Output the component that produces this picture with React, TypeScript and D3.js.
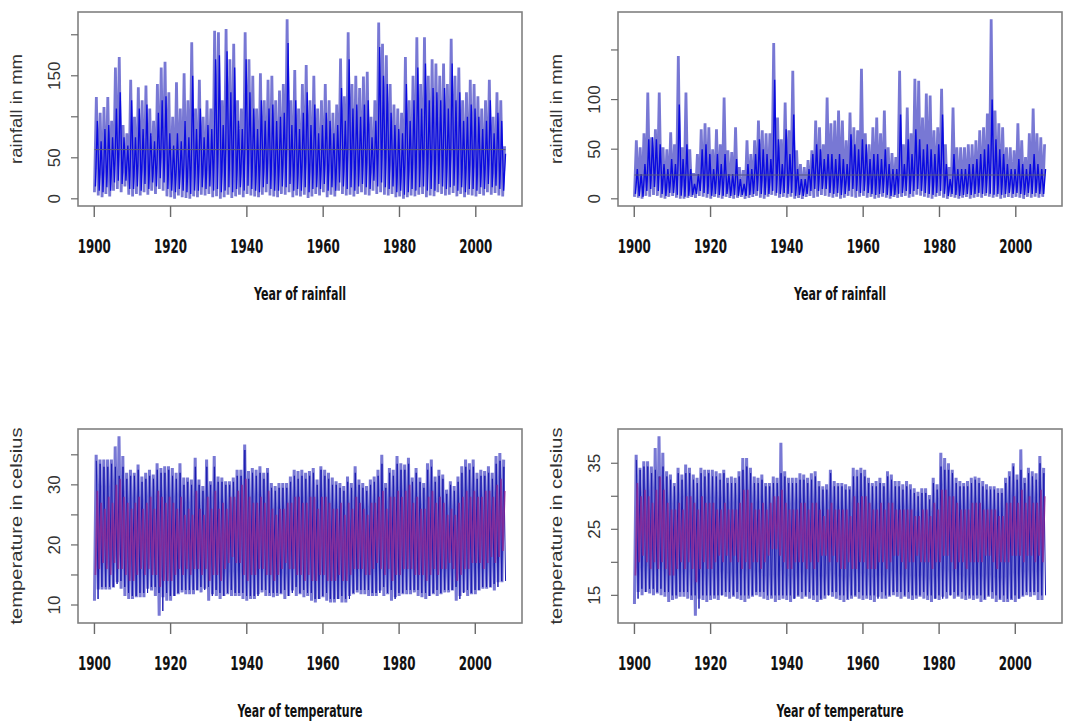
import React from 'react';
import * as d3 from 'd3';

// ---------- DATA ----------
const YEARS: number[] = d3.range(1900, 2008);
const X_TICKS = [1900, 1920, 1940, 1960, 1980, 2000];

// Panel 1: rainfall (station A), annual peak / trough of monthly rainfall, mm
const R1_SLATE_PEAK = [
  124, 105, 112, 124, 95, 160, 173, 90, 80, 145,
  100, 136, 120, 138, 110, 95, 140, 160, 167, 130,
  100, 142, 110, 153, 120, 191, 110, 145, 100, 120,
  110, 205, 203, 120, 207, 170, 189, 120, 110, 203,
  170, 150, 110, 153, 120, 145, 150, 120, 132, 140,
  219, 120, 157, 110, 140, 163, 120, 150, 110, 120,
  140, 120, 105, 115, 171, 125, 203, 140, 150, 135,
  149, 155, 100, 120, 215, 189, 175, 140, 115, 110,
  105, 173, 120, 150, 197, 140, 197, 150, 170, 165,
  150, 165, 140, 195, 150, 160, 120, 130, 145, 140,
  125, 110, 120, 145, 100, 130, 120, 64];
const R1_SLATE_TROUGH = [
  8, 4, 2, 6, 3, 10, 12, 8, 15, 5,
  3, 6, 4, 8, 5, 10, 6, 12, 10, 3,
  2, 0, 4, 2, 1, 0, 3, 2, 5, 4,
  6, 2, 3, 0, 2, 5, 1, 3, 5, 2,
  6, 4, 3, 2, 5, 8, 4, 3, 2, 6,
  5, 8, 2, 4, 3, 5, 1, 3, 6, 4,
  8, 2, 5, 3, 10, 6, 4, 5, 3, 6,
  8, 5, 4, 10, 6, 8, 5, 4, 6, 2,
  3, 0, 2, 4, 3, 5, 6, 2, 4, 3,
  8, 6, 4, 5, 7, 3, 6, 2, 5, 4,
  3, 6, 4, 8, 5, 7, 4, 3];
const R1_BLUE_PEAK = [
  95, 70, 85, 90, 75, 110, 130, 75, 65, 120,
  75, 110, 85, 115, 80, 70, 105, 120, 125, 80,
  65, 80, 70, 95, 75, 150, 85, 110, 75, 90,
  85, 170, 175, 90, 180, 130, 160, 95, 85, 170,
  130, 110, 85, 120, 95, 110, 115, 95, 100, 105,
  190, 90, 120, 85, 105, 130, 90, 115, 80, 90,
  105, 95, 80, 90, 135, 95, 170, 110, 115, 100,
  115, 120, 75, 95, 185, 150, 140, 105, 90, 85,
  80, 140, 95, 120, 160, 110, 165, 120, 135, 130,
  120, 135, 110, 165, 120, 130, 95, 100, 115, 110,
  100, 85, 95, 120, 80, 105, 95, 55];
const R1_BLUE_TROUGH = [
  15, 10, 8, 14, 10, 20, 22, 18, 22, 12,
  12, 15, 10, 18, 12, 20, 15, 25, 20, 12,
  10, 8, 12, 10, 8, 6, 10, 10, 14, 12,
  15, 10, 12, 8, 10, 14, 8, 12, 14, 10,
  16, 12, 10, 8, 14, 18, 12, 10, 10, 15,
  14, 18, 10, 12, 10, 14, 8, 12, 14, 12,
  18, 10, 14, 10, 20, 15, 12, 14, 10, 15,
  18, 14, 12, 22, 15, 20, 14, 12, 15, 8,
  10, 5, 8, 12, 10, 14, 15, 10, 12, 10,
  18, 15, 12, 14, 16, 10, 14, 8, 12, 12,
  10, 14, 12, 18, 14, 16, 12, 10];
const R1_MEAN = 60;
const R1_Y_TICKS = [0, 50, 100, 150, 200];
const R1_Y_LABELS = [0, 50, 150];

// Panel 2: rainfall (station B)
const R2_SLATE_PEAK = [
  59, 52, 66, 107, 62, 70, 107, 52, 50, 67,
  55, 144, 52, 107, 50, 26, 45, 70, 76, 72,
  50, 70, 55, 102, 49, 47, 72, 32, 29, 59,
  45, 59, 79, 69, 66, 66, 157, 82, 60, 97,
  69, 129, 49, 35, 32, 39, 49, 79, 72, 55,
  102, 76, 79, 89, 79, 59, 87, 72, 69, 131,
  66, 55, 72, 82, 66, 89, 52, 46, 42, 129,
  55, 92, 66, 121, 119, 82, 106, 104, 69, 72,
  111, 55, 32, 92, 52, 52, 52, 55, 55, 59,
  69, 72, 86, 181, 89, 76, 72, 52, 52, 49,
  76, 59, 42, 66, 91, 66, 62, 55];
const R2_SLATE_TROUGH = [
  2, 1, 0, 3, 2, 4, 3, 1, 0, 2,
  3, 1, 0, 0, 1, 2, 1, 3, 2, 1,
  0, 2, 1, 0, 2, 1, 0, 1, 2, 0,
  1, 2, 3, 1, 0, 2, 4, 3, 1, 2,
  1, 2, 0, 1, 0, 2, 3, 1, 2, 4,
  3, 2, 1, 2, 0, 1, 3, 2, 1, 2,
  3, 1, 2, 0, 1, 2, 1, 0, 2, 1,
  2, 3, 1, 2, 4, 3, 2, 1, 0, 2,
  3, 1, 0, 2, 1, 0, 1, 2, 0, 1,
  2, 1, 3, 2, 1, 2, 0, 1, 2, 1,
  2, 1, 0, 2, 1, 2, 1, 2];
const R2_BLUE_PEAK = [
  30, 25, 35, 60, 62, 60, 55, 35, 30, 40,
  35, 95, 40, 55, 30, 15, 25, 50, 55, 45,
  30, 45, 35, 45, 25, 25, 40, 20, 15, 35,
  30, 45, 60, 50, 45, 40, 120, 60, 35, 70,
  45, 85, 30, 20, 20, 30, 45, 55, 50, 40,
  45, 45, 40, 45, 40, 35, 65, 55, 50, 60,
  55, 40, 45, 45, 40, 50, 35, 30, 30, 85,
  35, 60, 45, 70, 60, 50, 55, 50, 45, 55,
  85, 35, 20, 45, 30, 30, 30, 35, 35, 40,
  45, 50, 55, 100, 60, 50, 45, 35, 30, 30,
  40, 35, 30, 35, 45, 35, 30, 30];
const R2_BLUE_TROUGH = [
  5, 3, 2, 8, 10, 12, 8, 5, 3, 6,
  6, 4, 3, 2, 3, 4, 5, 8, 6, 5,
  3, 5, 4, 3, 5, 3, 4, 3, 4, 3,
  4, 5, 8, 5, 4, 5, 8, 6, 5, 6,
  5, 6, 3, 4, 3, 5, 8, 10, 8, 10,
  10, 6, 5, 6, 4, 5, 8, 10, 8, 6,
  8, 6, 5, 4, 5, 6, 4, 3, 4, 5,
  6, 8, 5, 8, 10, 8, 6, 5, 4, 6,
  8, 5, 3, 5, 4, 3, 4, 5, 4, 5,
  6, 5, 6, 5, 4, 5, 4, 5, 6, 5,
  6, 5, 4, 6, 5, 6, 5, 5];
const R2_MEAN = 24;
const R2_Y_TICKS = [0, 50, 100, 150];
const R2_Y_LABELS = [0, 50, 100];

// Panel 3: temperature (station A), degrees celsius
const T1_SLATE_PEAK = [
  35.0, 34.2, 34.2, 34.2, 34.2, 36.4, 38.1, 34.8, 32.0, 32.5,
  32.0, 33.4, 31.4, 32.0, 32.5, 31.7, 33.6, 32.8, 33.1, 33.1,
  32.8, 32.0, 33.6, 31.2, 31.2, 30.9, 34.5, 30.9, 29.8, 34.2,
  30.6, 34.8, 31.4, 31.2, 30.6, 30.6, 31.2, 32.5, 32.5, 36.7,
  32.3, 32.8, 32.5, 33.1, 32.0, 32.8, 30.3, 29.8, 30.3, 30.3,
  30.3, 31.4, 32.5, 32.3, 32.5, 32.0, 32.3, 32.8, 30.9, 33.1,
  32.5, 32.0, 31.2, 30.6, 30.3, 29.8, 31.4, 30.3, 33.1, 30.9,
  30.3, 29.8, 30.9, 31.4, 32.5, 35.0, 30.3, 32.8, 32.5, 34.8,
  33.6, 33.4, 34.5, 31.2, 32.8, 31.2, 30.3, 33.6, 34.2, 31.4,
  32.5, 31.7, 29.2, 30.6, 29.8, 31.4, 33.1, 34.2, 33.6, 34.2,
  32.0, 32.5, 32.3, 33.1, 32.0, 34.8, 35.3, 34.2];
const T1_SLATE_TROUGH = [
  10.7, 12.6, 12.6, 12.6, 12.6, 12.9, 13.8, 12.7, 11.5, 11.0,
  11.0, 11.3, 11.3, 11.3, 12.7, 12.4, 11.5, 8.2, 11.3, 10.7,
  10.7, 11.5, 11.8, 12.1, 11.8, 11.8, 11.8, 12.4, 12.1, 12.7,
  10.7, 11.8, 11.5, 11.0, 11.5, 11.8, 11.5, 11.5, 11.5, 11.0,
  10.7, 11.0, 11.0, 11.8, 12.1, 11.5, 11.5, 11.3, 11.5, 11.8,
  11.0, 11.5, 12.4, 11.5, 11.8, 11.3, 11.5, 10.7, 10.4, 11.0,
  11.3, 10.7, 10.4, 10.4, 11.0, 10.4, 10.4, 11.5, 11.8, 12.1,
  11.8, 11.8, 11.5, 11.5, 11.5, 12.4, 11.5, 11.8, 10.7, 11.3,
  11.5, 11.8, 11.8, 11.8, 12.1, 11.5, 11.3, 11.0, 11.5, 11.8,
  11.5, 11.8, 12.1, 12.1, 12.4, 10.7, 11.5, 12.1, 11.5, 11.8,
  11.8, 12.4, 12.7, 12.7, 12.9, 12.4, 13.8, 13.8];
const T1_BLUE_PEAK = [
  34.0, 33.5, 33.0, 33.0, 33.5, 33.0, 31.5, 33.0, 31.0, 31.5,
  31.5, 32.5, 30.5, 31.0, 31.5, 31.0, 32.5, 32.0, 32.0, 32.5,
  31.5, 31.0, 32.0, 30.0, 30.5, 30.0, 33.0, 30.0, 29.0, 33.0,
  30.0, 33.0, 30.5, 30.5, 30.0, 30.0, 30.5, 31.5, 31.5, 35.8,
  31.0, 32.0, 31.5, 32.0, 31.0, 32.0, 29.5, 29.0, 29.5, 29.5,
  29.5, 30.5, 31.5, 31.0, 31.5, 31.0, 31.5, 32.0, 30.0, 32.5,
  31.5, 31.0, 30.0, 30.0, 29.5, 29.0, 30.5, 29.5, 32.0, 30.0,
  29.5, 29.0, 30.0, 30.5, 31.5, 33.5, 29.5, 32.0, 31.5, 33.5,
  32.5, 32.5, 33.5, 30.5, 32.0, 30.5, 29.5, 32.5, 33.0, 30.5,
  31.5, 31.0, 28.5, 30.0, 29.0, 30.5, 32.0, 33.0, 32.5, 33.0,
  31.0, 31.5, 31.5, 32.0, 31.0, 33.5, 34.0, 33.0];
const T1_BLUE_TROUGH = [
  11.0, 13.0, 13.0, 13.0, 13.0, 13.5, 14.0, 13.0, 12.0, 11.5,
  11.5, 12.0, 12.0, 12.0, 13.0, 13.0, 12.0, 9.0, 12.0, 11.5,
  11.5, 12.0, 12.5, 12.5, 12.5, 12.5, 12.5, 13.0, 12.5, 13.0,
  11.5, 12.5, 12.0, 11.5, 12.0, 12.5, 12.0, 12.0, 12.0, 11.5,
  11.5, 11.5, 11.5, 12.5, 12.5, 12.0, 12.0, 12.0, 12.0, 12.5,
  11.5, 12.0, 13.0, 12.0, 12.5, 12.0, 12.0, 11.0, 11.0, 11.5,
  12.0, 11.0, 11.0, 11.0, 11.5, 11.0, 11.0, 12.0, 12.5, 12.5,
  12.5, 12.5, 12.0, 12.0, 12.0, 13.0, 12.0, 12.5, 11.0, 12.0,
  12.0, 12.5, 12.5, 12.5, 12.5, 12.0, 12.0, 11.5, 12.0, 12.5,
  12.0, 12.5, 12.5, 12.5, 13.0, 11.0, 12.0, 12.5, 12.0, 12.5,
  12.5, 13.0, 13.0, 13.0, 13.5, 13.0, 14.0, 14.0];
const T1_RED_PEAK = [
  29, 27, 26, 28, 27, 30, 31, 28, 27, 26,
  27, 28, 26, 27, 28, 26, 29, 28, 27, 28,
  27, 26, 28, 25, 26, 25, 29, 26, 25, 28,
  26, 29, 26, 27, 26, 28, 28, 29, 30, 31,
  28, 27, 27, 28, 27, 29, 26, 25, 26, 26,
  27, 27, 28, 28, 27, 27, 28, 28, 26, 28,
  28, 27, 26, 26, 27, 25, 27, 26, 28, 27,
  26, 25, 27, 27, 28, 29, 26, 28, 28, 29,
  28, 29, 30, 27, 28, 26, 26, 28, 29, 27,
  28, 27, 25, 26, 25, 27, 28, 29, 28, 29,
  28, 28, 29, 29, 28, 30, 31, 29];
const T1_RED_TROUGH = [
  15, 16, 17, 16, 15, 17, 16, 16, 15, 14,
  14, 15, 16, 15, 16, 15, 15, 13, 14, 14,
  14, 15, 16, 15, 16, 15, 16, 16, 15, 16,
  14, 15, 15, 14, 16, 17, 18, 17, 17, 15,
  14, 15, 15, 16, 16, 15, 15, 14, 15, 16,
  17, 16, 16, 15, 15, 14, 15, 14, 14, 15,
  15, 14, 14, 14, 15, 14, 14, 15, 16, 16,
  16, 15, 15, 16, 17, 16, 15, 16, 14, 15,
  15, 16, 16, 16, 15, 15, 15, 14, 15, 16,
  15, 16, 16, 17, 16, 14, 15, 16, 16, 17,
  17, 17, 16, 17, 18, 17, 18, 19];
const T1_Y_TICKS = [10, 15, 20, 25, 30, 35];
const T1_Y_LABELS = [10, 20, 30];

// Panel 4: temperature (station B)
const T2_SLATE_PEAK = [
  36.3, 34.3, 35.3, 35.3, 34.5, 37.3, 39.1, 36.6, 33.8, 33.3,
  32.0, 34.3, 33.3, 34.8, 34.3, 33.3, 32.8, 34.3, 34.0, 34.0,
  34.0, 33.8, 33.5, 34.0, 32.8, 33.0, 32.8, 33.8, 35.8, 35.8,
  34.3, 33.0, 32.8, 33.3, 32.0, 32.0, 33.0, 32.8, 38.1, 33.8,
  32.8, 32.8, 32.8, 33.5, 33.3, 32.8, 33.5, 33.8, 32.3, 31.5,
  31.8, 34.0, 32.3, 32.0, 32.0, 31.8, 31.5, 34.3, 34.0, 34.3,
  34.0, 32.8, 32.0, 32.3, 32.8, 32.0, 33.8, 33.3, 32.3, 32.3,
  31.8, 32.3, 31.8, 31.2, 30.7, 31.2, 31.2, 30.2, 32.8, 31.8,
  36.6, 35.8, 35.0, 34.0, 32.8, 32.3, 32.0, 32.3, 32.8, 33.0,
  32.8, 32.3, 31.8, 31.5, 31.5, 31.2, 31.2, 32.8, 33.8, 35.0,
  33.3, 37.1, 32.8, 34.3, 33.8, 33.5, 36.1, 34.3];
const T2_SLATE_TROUGH = [
  13.7, 15.5, 15.0, 15.5, 15.3, 15.0, 15.3, 15.0, 14.8, 14.0,
  14.3, 14.5, 14.8, 14.8, 14.5, 14.3, 11.9, 14.5, 14.3, 14.0,
  14.3, 14.5, 14.3, 15.0, 14.8, 14.5, 14.8, 14.5, 14.3, 14.0,
  14.5, 14.8, 15.0, 14.8, 14.5, 14.3, 14.5, 14.0, 14.3, 14.5,
  14.3, 14.0, 14.5, 14.8, 14.5, 14.8, 14.5, 14.3, 14.0, 14.3,
  14.5, 15.0, 14.8, 14.5, 14.3, 14.0, 14.3, 14.5, 14.8, 14.5,
  14.3, 14.5, 14.3, 14.0, 14.8, 14.5, 14.5, 14.8, 15.0, 14.8,
  14.5, 14.8, 14.5, 14.3, 14.5, 14.8, 14.5, 14.3, 14.0, 14.5,
  14.3, 14.8, 14.5, 15.0, 14.5, 14.8, 14.5, 14.3, 14.5, 14.3,
  14.5, 14.0, 14.3, 14.8, 14.5, 14.0, 14.3, 14.0, 14.0, 14.3,
  14.0, 14.5, 14.8, 15.0, 14.8, 15.0, 14.3, 14.3];
const T2_BLUE_PEAK = [
  35.5, 34.0, 34.5, 34.5, 33.5, 34.0, 33.0, 34.5, 33.0, 32.5,
  31.5, 33.5, 32.5, 33.5, 33.5, 32.5, 32.0, 33.5, 33.0, 33.5,
  33.0, 33.0, 32.5, 33.5, 32.0, 32.0, 32.0, 33.0, 34.0, 34.5,
  33.5, 32.0, 32.0, 32.5, 31.5, 31.5, 32.0, 32.0, 33.5, 33.0,
  32.0, 32.0, 32.0, 32.5, 32.5, 32.0, 32.5, 33.0, 31.5, 31.0,
  31.0, 33.5, 31.5, 31.5, 31.5, 31.0, 31.0, 33.0, 33.0, 33.5,
  33.0, 32.0, 31.5, 31.5, 32.0, 31.5, 33.0, 32.5, 31.5, 31.5,
  31.0, 31.5, 31.0, 30.5, 30.0, 30.5, 30.5, 29.5, 32.0, 31.0,
  34.5, 34.0, 34.0, 33.5, 32.0, 31.5, 31.5, 31.5, 32.0, 32.5,
  32.0, 31.5, 31.0, 31.0, 31.0, 30.5, 30.5, 32.0, 33.0, 34.5,
  32.5, 34.0, 32.0, 33.5, 33.0, 32.5, 35.0, 33.5];
const T2_BLUE_TROUGH = [
  14.5, 16.0, 15.5, 16.0, 16.0, 15.5, 16.0, 15.5, 15.5, 15.0,
  15.0, 15.5, 15.5, 15.5, 15.0, 15.0, 13.0, 15.0, 15.0, 15.0,
  15.0, 15.0, 15.0, 15.5, 15.5, 15.0, 15.5, 15.0, 15.0, 15.0,
  15.0, 15.5, 15.5, 15.5, 15.0, 15.0, 15.0, 15.0, 15.0, 15.0,
  15.0, 14.5, 15.0, 15.5, 15.0, 15.5, 15.0, 15.0, 14.5, 15.0,
  15.0, 15.5, 15.5, 15.0, 15.0, 14.5, 15.0, 15.0, 15.5, 15.0,
  15.0, 15.0, 15.0, 14.5, 15.5, 15.0, 15.0, 15.5, 15.5, 15.5,
  15.0, 15.5, 15.0, 15.0, 15.0, 15.5, 15.0, 15.0, 14.5, 15.0,
  14.5, 15.5, 15.0, 15.5, 15.0, 15.5, 15.0, 15.0, 15.0, 15.0,
  15.0, 14.5, 15.0, 15.5, 15.0, 14.5, 15.0, 14.5, 14.5, 15.0,
  14.5, 15.0, 15.5, 15.5, 15.5, 15.5, 15.0, 15.0];
const T2_RED_PEAK = [
  32, 30, 31, 30, 29, 31, 33, 31, 29, 28,
  28, 29, 28, 30, 30, 29, 28, 30, 29, 29,
  29, 28, 28, 29, 28, 28, 28, 29, 31, 31,
  29, 28, 28, 29, 28, 29, 30, 30, 31, 29,
  28, 28, 28, 29, 29, 28, 29, 29, 28, 27,
  28, 29, 28, 28, 28, 28, 27, 30, 29, 30,
  30, 29, 28, 28, 29, 28, 29, 29, 28, 28,
  28, 28, 28, 27, 27, 28, 28, 27, 29, 28,
  31, 31, 30, 30, 29, 28, 28, 28, 29, 29,
  29, 28, 28, 28, 28, 27, 27, 29, 29, 30,
  29, 31, 29, 30, 29, 29, 31, 30];
const T2_RED_TROUGH = [
  18, 20, 21, 20, 19, 20, 19, 20, 19, 18,
  18, 19, 20, 19, 20, 19, 17, 19, 20, 19,
  19, 20, 21, 20, 21, 20, 21, 20, 19, 20,
  19, 20, 20, 19, 20, 21, 22, 22, 21, 20,
  19, 19, 20, 20, 20, 19, 20, 19, 20, 21,
  21, 20, 21, 20, 19, 19, 20, 19, 19, 20,
  20, 19, 19, 19, 20, 20, 19, 20, 21, 21,
  20, 19, 20, 20, 21, 20, 20, 20, 19, 20,
  20, 21, 21, 20, 19, 20, 20, 19, 20, 20,
  20, 20, 21, 21, 20, 19, 20, 20, 20, 21,
  21, 21, 20, 21, 21, 20, 21, 20];
const T2_Y_TICKS = [15, 20, 25, 30, 35];
const T2_Y_LABELS = [15, 25, 35];

// ---------- STYLE / LAYOUT ----------
const W = 1067;
const H = 722;
const SLATE = '#7878d4';
const BLUE = '#0a0ae0';
const NAVY = '#1c1cb0';
const PURPLE = '#8c2592';
const BOLD_FONT = '"Liberation Sans Narrow", "Arial Narrow", "DejaVu Sans Condensed", "Liberation Sans", sans-serif';
const REG_FONT = '"Liberation Sans", Arial, sans-serif';

type Series = {
  peak: number[];
  trough: number[];
  peakAt: number;
  troughAt: number;
  color: string;
  width: number;
  opacity: number;
};

type PanelCfg = {
  col: number;
  row: number;
  series: Series[];
  yTicks: number[];
  yLabels: number[];
  yTitle: string;
  yTitleLen: number;
  xTitle: string;
  xTitleLen: number;
  mean?: number;
};

const PANELS: PanelCfg[] = [
  {
    col: 0, row: 0,
    series: [
      { peak: R1_SLATE_PEAK, trough: R1_SLATE_TROUGH, peakAt: 0.55, troughAt: 0.05, color: SLATE, width: 2.8, opacity: 1 },
      { peak: R1_BLUE_PEAK, trough: R1_BLUE_TROUGH, peakAt: 0.8, troughAt: 0.3, color: BLUE, width: 1.3, opacity: 1 },
    ],
    yTicks: R1_Y_TICKS, yLabels: R1_Y_LABELS,
    yTitle: 'rainfall in mm', yTitleLen: 110,
    xTitle: 'Year of rainfall', xTitleLen: 92, mean: R1_MEAN,
  },
  {
    col: 1, row: 0,
    series: [
      { peak: R2_SLATE_PEAK, trough: R2_SLATE_TROUGH, peakAt: 0.55, troughAt: 0.05, color: SLATE, width: 2.8, opacity: 1 },
      { peak: R2_BLUE_PEAK, trough: R2_BLUE_TROUGH, peakAt: 0.8, troughAt: 0.3, color: BLUE, width: 1.4, opacity: 1 },
    ],
    yTicks: R2_Y_TICKS, yLabels: R2_Y_LABELS,
    yTitle: 'rainfall in mm', yTitleLen: 110,
    xTitle: 'Year of rainfall', xTitleLen: 92, mean: R2_MEAN,
  },
  {
    col: 0, row: 1,
    series: [
      { peak: T1_SLATE_PEAK, trough: T1_SLATE_TROUGH, peakAt: 0.45, troughAt: 0.0, color: SLATE, width: 3.0, opacity: 1 },
      { peak: T1_BLUE_PEAK, trough: T1_BLUE_TROUGH, peakAt: 0.5, troughAt: 0.95, color: NAVY, width: 1.0, opacity: 1 },
      { peak: T1_RED_PEAK, trough: T1_RED_TROUGH, peakAt: 0.75, troughAt: 0.25, color: PURPLE, width: 1.7, opacity: 0.8 },
    ],
    yTicks: T1_Y_TICKS, yLabels: T1_Y_LABELS,
    yTitle: 'temperature in celsius', yTitleLen: 197,
    xTitle: 'Year of temperature', xTitleLen: 125,
  },
  {
    col: 1, row: 1,
    series: [
      { peak: T2_SLATE_PEAK, trough: T2_SLATE_TROUGH, peakAt: 0.45, troughAt: 0.0, color: SLATE, width: 3.0, opacity: 1 },
      { peak: T2_BLUE_PEAK, trough: T2_BLUE_TROUGH, peakAt: 0.5, troughAt: 0.95, color: NAVY, width: 1.0, opacity: 1 },
      { peak: T2_RED_PEAK, trough: T2_RED_TROUGH, peakAt: 0.75, troughAt: 0.25, color: PURPLE, width: 1.7, opacity: 0.8 },
    ],
    yTicks: T2_Y_TICKS, yLabels: T2_Y_LABELS,
    yTitle: 'temperature in celsius', yTitleLen: 197,
    xTitle: 'Year of temperature', xTitleLen: 127,
  },
];

type Pt = { t: number; v: number };

function buildPoints(s: Series): Pt[] {
  const pts: Pt[] = [];
  const n = Math.min(YEARS.length, s.peak.length, s.trough.length);
  for (let i = 0; i < n; i++) {
    const yr = YEARS[i];
    const a = { t: yr + s.troughAt, v: s.trough[i] };
    const b = { t: yr + s.peakAt, v: s.peak[i] };
    if (s.troughAt < s.peakAt) pts.push(a, b);
    else pts.push(b, a);
  }
  return pts;
}

function Panel({ cfg }: { cfg: PanelCfg }) {
  const left = 78 + cfg.col * 540;
  const right = 522 + cfg.col * 540;
  const top = 12 + cfg.row * 417;
  const bottom = 206 + cfg.row * 417;

  const seriesPts = cfg.series.map(buildPoints);
  const all = seriesPts.flat();
  const [tMin, tMax] = d3.extent(all, (d) => d.t) as [number, number];
  const [vMin, vMax] = d3.extent(all, (d) => d.v) as [number, number];
  const tPad = (tMax - tMin) * 0.04;
  const vPad = (vMax - vMin) * 0.04;

  const x = d3.scaleLinear().domain([tMin - tPad, tMax + tPad]).range([left, right]);
  const y = d3.scaleLinear().domain([vMin - vPad, vMax + vPad]).range([bottom, top]);
  const line = d3.line<Pt>().x((d) => x(d.t)).y((d) => y(d.v));

  const midX = (left + right) / 2;
  const midY = (top + bottom) / 2;
  const yLabX = left - 18;
  const yTitX = left - 56;

  return (
    <g>
      {seriesPts.map((pts, i) => (
        <path
          key={i}
          d={line(pts) || ''}
          fill="none"
          stroke={cfg.series[i].color}
          strokeWidth={cfg.series[i].width}
          strokeOpacity={cfg.series[i].opacity}
          strokeLinejoin="bevel"
        />
      ))}
      {cfg.mean !== undefined && (
        <line x1={x(tMin)} x2={x(tMax)} y1={y(cfg.mean)} y2={y(cfg.mean)} stroke="#5a5a7a" strokeWidth={1} />
      )}
      <rect x={left} y={top} width={right - left} height={bottom - top} fill="none" stroke="#808080" strokeWidth={1.6} />
      {X_TICKS.map((t) => (
        <g key={t}>
          <line x1={x(t)} x2={x(t)} y1={bottom} y2={bottom + 11} stroke="#6a6a6a" strokeWidth={1.4} />
          <text
            x={x(t)}
            y={bottom + 47}
            textAnchor="middle"
            fontFamily={BOLD_FONT}
            fontWeight="bold"
            fontSize={20}
            textLength={33}
            lengthAdjust="spacingAndGlyphs"
            fill="#111"
          >
            {t}
          </text>
        </g>
      ))}
      <text
        x={midX}
        y={bottom + 94}
        textAnchor="middle"
        fontFamily={BOLD_FONT}
        fontWeight="bold"
        fontSize={18}
        textLength={cfg.xTitleLen}
        lengthAdjust="spacingAndGlyphs"
        fill="#111"
      >
        {cfg.xTitle}
      </text>
      {cfg.yTicks.map((v) => (
        <line key={v} x1={left - 7} x2={left} y1={y(v)} y2={y(v)} stroke="#6a6a6a" strokeWidth={1.2} />
      ))}
      {cfg.yLabels.map((v) => (
        <text
          key={v}
          x={yLabX}
          y={y(v)}
          transform={`rotate(-90, ${yLabX}, ${y(v)})`}
          textAnchor="middle"
          fontFamily={REG_FONT}
          fontSize={17}
          fill="#333"
        >
          {v}
        </text>
      ))}
      <text
        x={yTitX}
        y={midY}
        transform={`rotate(-90, ${yTitX}, ${midY})`}
        textAnchor="middle"
        fontFamily={REG_FONT}
        fontSize={16}
        textLength={cfg.yTitleLen}
        lengthAdjust="spacingAndGlyphs"
        fill="#333"
      >
        {cfg.yTitle}
      </text>
    </g>
  );
}

export default function App() {
  return (
    <svg
      width={W}
      height={H}
      viewBox={`0 0 ${W} ${H}`}
      style={{ position: 'absolute', left: 0, top: 0, background: '#fff' }}
    >
      <rect x={0} y={0} width={W} height={H} fill="#fff" />
      {PANELS.map((p, i) => (
        <Panel key={i} cfg={p} />
      ))}
    </svg>
  );
}
